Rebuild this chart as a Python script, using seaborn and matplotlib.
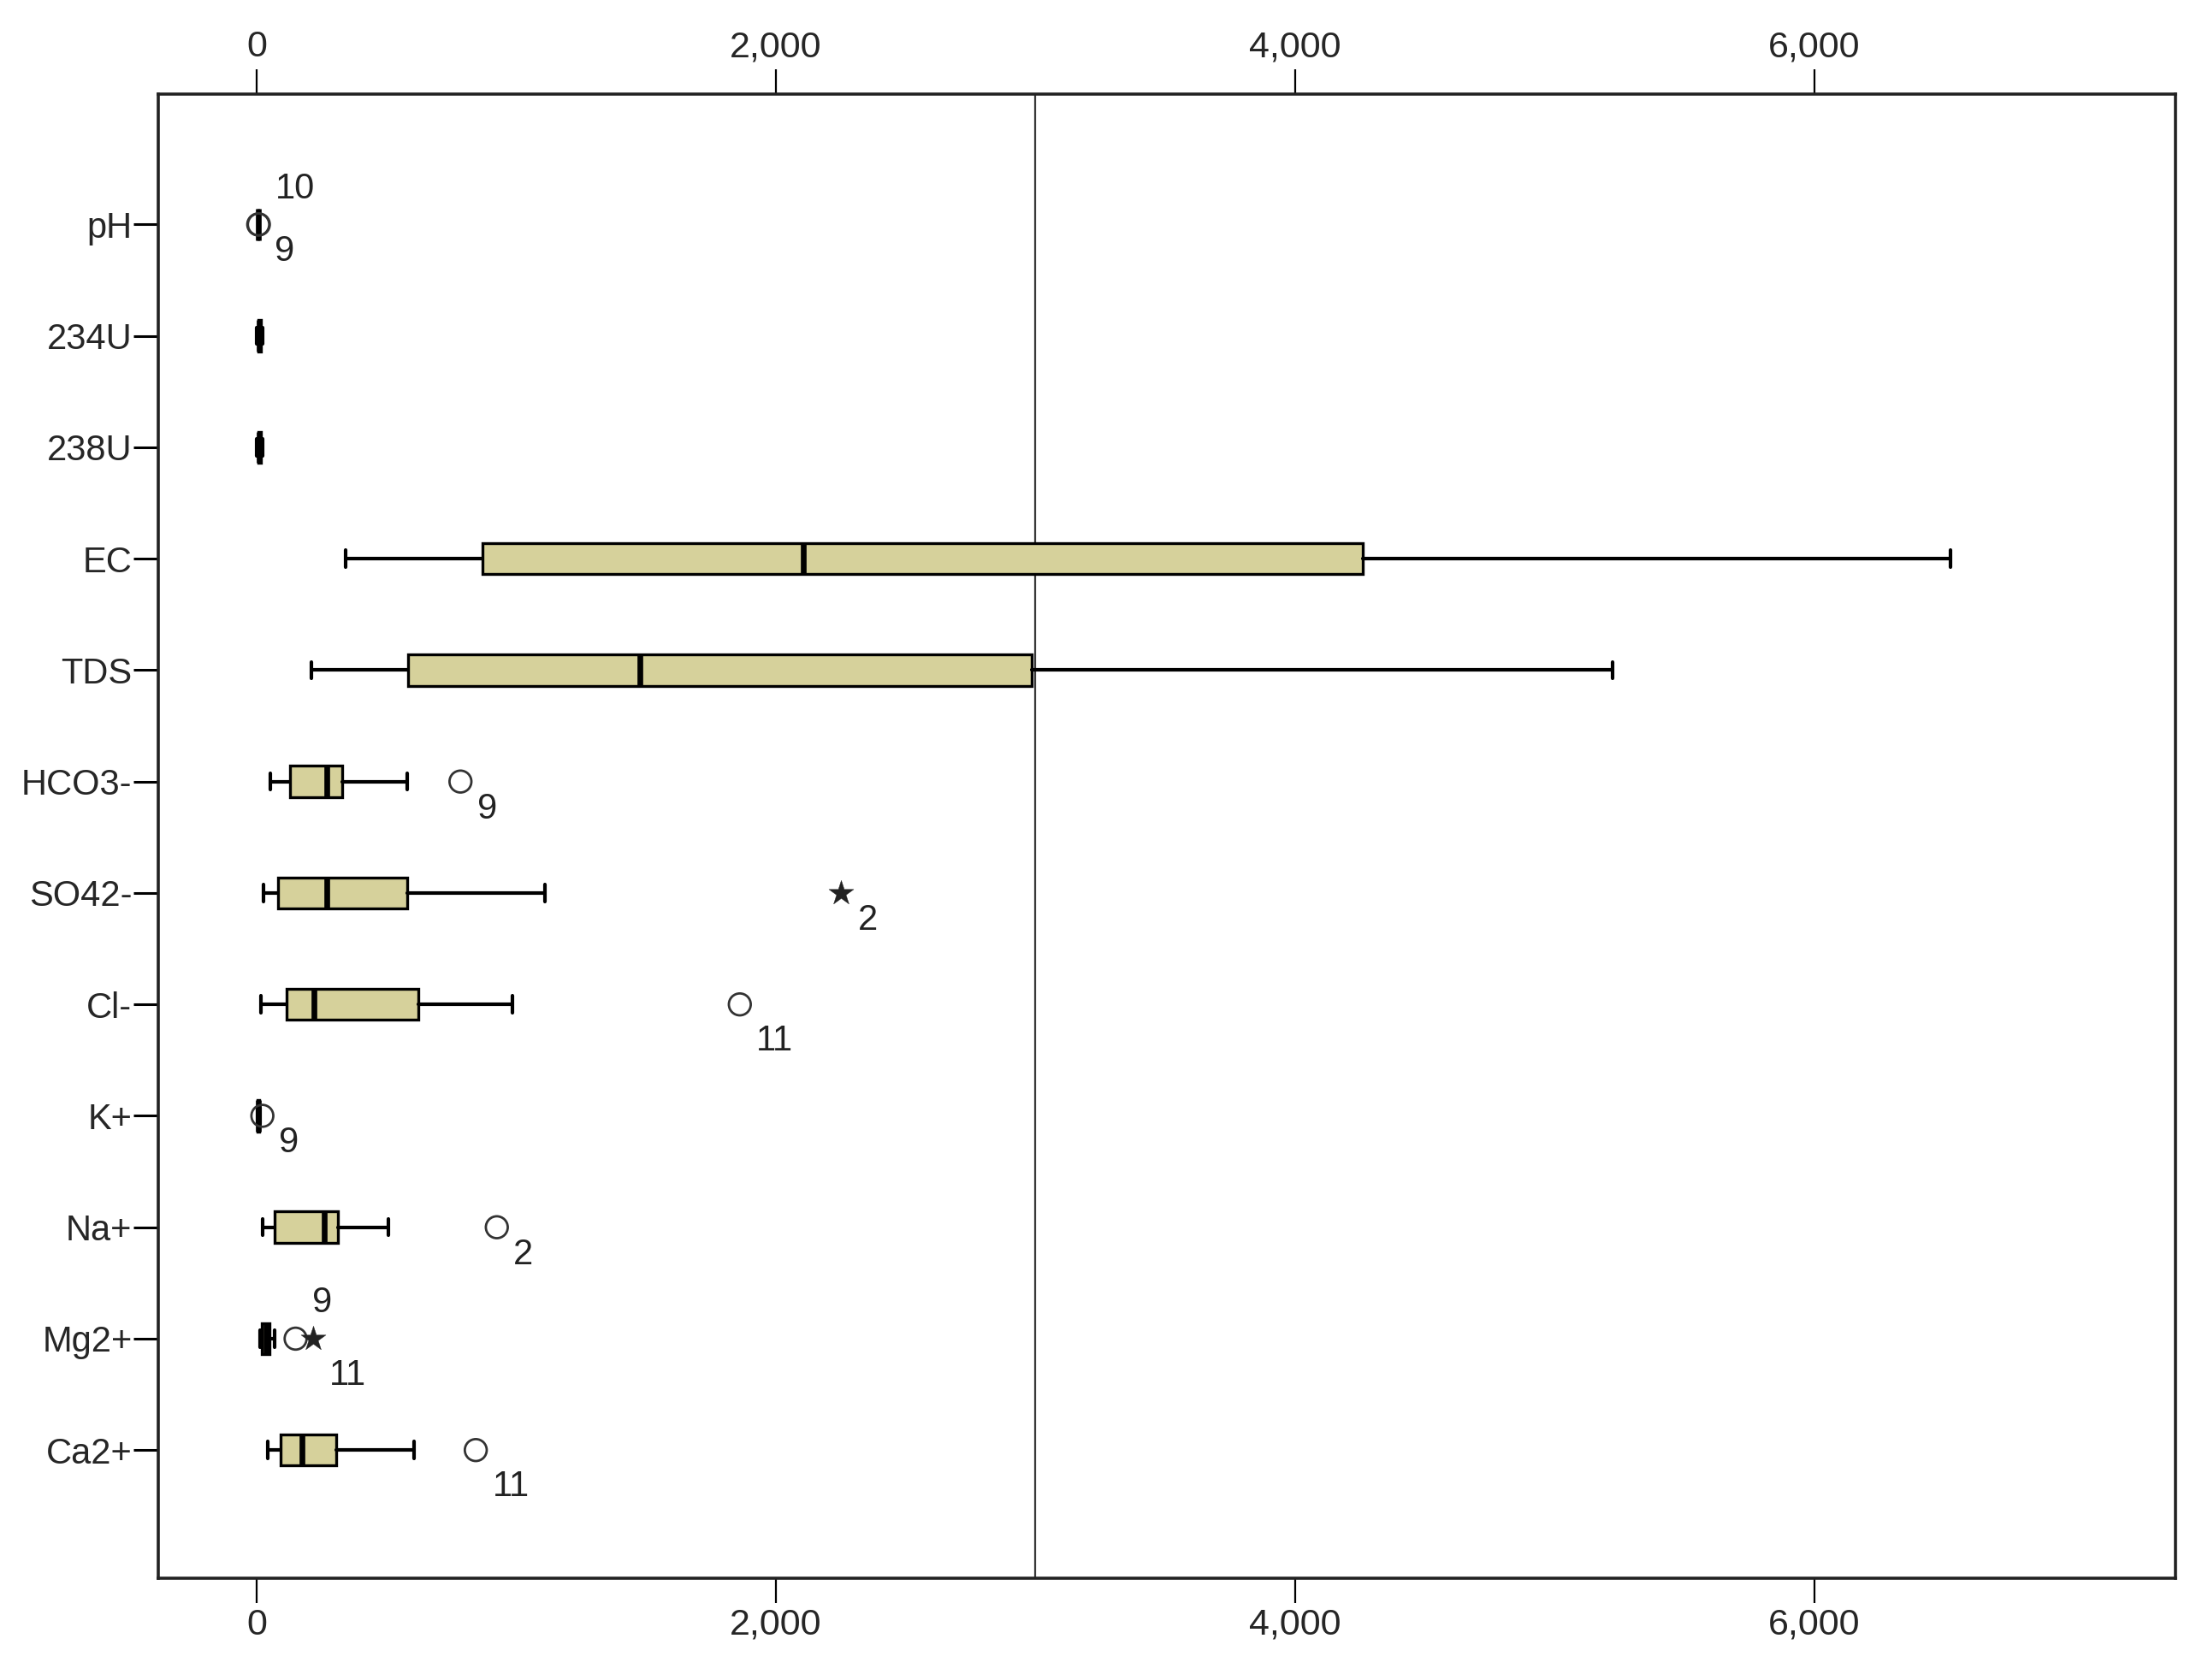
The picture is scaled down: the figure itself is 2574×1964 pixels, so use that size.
import pandas as pd
import matplotlib
matplotlib.use("Agg")
import matplotlib.pyplot as plt
from matplotlib.ticker import FuncFormatter
import seaborn as sns

# Box statistics (one entry per variable)
variables = ["pH", "234U", "238U", "EC", "TDS", "HCO3-", "SO42-", "Cl-",
             "K+", "Na+", "Mg2+", "Ca2+"]
whisker_lo = [6.8, 1, 1, 341, 211, 54, 27, 16, 2, 22, 12, 43]
q1 = [7.0, 5, 5, 871, 584, 130, 81, 114, 4, 70, 20, 92]
median = [7.2, 10, 10, 2105, 1477, 271, 271, 222, 6, 260, 35, 173]
q3 = [7.5, 15, 15, 4259, 2987, 330, 579, 622, 9, 314, 50, 308]
whisker_hi = [7.8, 22, 22, 6526, 5222, 579, 1109, 985, 14, 509, 68, 606]

# Outliers (o) and extremes (*) with their case numbers
flier_var = ["pH", "pH", "HCO3-", "SO42-", "Cl-", "K+", "Na+", "Mg2+", "Mg2+", "Ca2+"]
flier_val = [8.4, 6.1, 785, 2251, 1861, 22, 925, 150, 217, 844]
flier_case = ["10", "9", "9", "2", "11", "9", "2", "9", "11", "11"]
flier_kind = ["outlier", "outlier", "outlier", "extreme", "outlier", "outlier",
              "outlier", "outlier", "extreme", "outlier"]
label_side = ["above", "below", "below", "below", "below", "below",
              "below", "above", "below", "below"]

reference_line = 3000
x_ticks = [0, 2000, 4000, 6000]

sns.set_style("white")
plt.rcParams["font.family"] = ["Liberation Sans", "DejaVu Sans"]

fig = plt.figure(figsize=(25.74, 19.64), dpi=100)
ax = fig.add_axes([185 / 2574, 1 - 1845 / 1964, (2543 - 185) / 2574, (1845 - 110) / 1964])

positions = list(range(len(variables)))
stats = []
for i, name in enumerate(variables):
    stats.append({"label": name, "whislo": whisker_lo[i], "q1": q1[i], "med": median[i],
                  "q3": q3[i], "whishi": whisker_hi[i], "fliers": []})

ax.bxp(stats, positions=positions, vert=False, widths=0.28, capwidths=0.15,
       patch_artist=True, showfliers=False,
       boxprops=dict(facecolor="#D6D19B", edgecolor="black", linewidth=2.4),
       medianprops=dict(color="black", linewidth=4.8, solid_capstyle="butt"),
       whiskerprops=dict(color="black", linewidth=3.0),
       capprops=dict(color="black", linewidth=3.0))

ax.axvline(reference_line, color="#3a3a3a", linewidth=1.6, zorder=0.5)

fliers = pd.DataFrame({"var": flier_var, "value": flier_val, "case": flier_case,
                       "kind": flier_kind, "side": label_side})
fliers["pos"] = fliers["var"].map({v: i for i, v in enumerate(variables)})

circles = fliers[fliers["kind"] == "outlier"]
stars = fliers[fliers["kind"] == "extreme"]
sns.scatterplot(data=circles, x="value", y="pos", ax=ax, marker="o", s=340,
                facecolors="none", edgecolor="#333333", linewidth=2.0, zorder=4)
sns.scatterplot(data=stars, x="value", y="pos", ax=ax, marker="*", s=480,
                color="#222222", edgecolor="#222222", linewidth=0.3, zorder=4)

for _, row in fliers.iterrows():
    if row["side"] == "above":
        dy = 30
    else:
        dy = -23 if len(row["case"]) == 1 else -31
    ax.annotate(row["case"], xy=(row["value"], row["pos"]), xytext=(14, dy),
                textcoords="offset points", ha="left", va="center",
                fontsize=30, color="#222222")

ax.set_xlim(-379, 7391)
ax.set_ylim(12.15, -1.17)
ax.set_yticks(positions)
ax.set_yticklabels(variables)
ax.set_xticks(x_ticks)
ax.xaxis.set_major_formatter(FuncFormatter(lambda v, p: f"{int(v):,}"))
ax.set_xlabel("")
ax.set_ylabel("")

ax.tick_params(axis="x", which="both", top=True, bottom=True, labeltop=True,
               labelbottom=True, direction="out", length=21, width=1.6,
               labelsize=31, pad=4, color="black")
ax.tick_params(axis="y", left=True, direction="out", length=21, width=2.2,
               labelsize=30, pad=1, color="black")
for spine in ax.spines.values():
    spine.set_visible(True)
    spine.set_color("#222222")
    spine.set_linewidth(2.6)
ax.grid(False)

fig.savefig("out.png", dpi=100, facecolor="white")
